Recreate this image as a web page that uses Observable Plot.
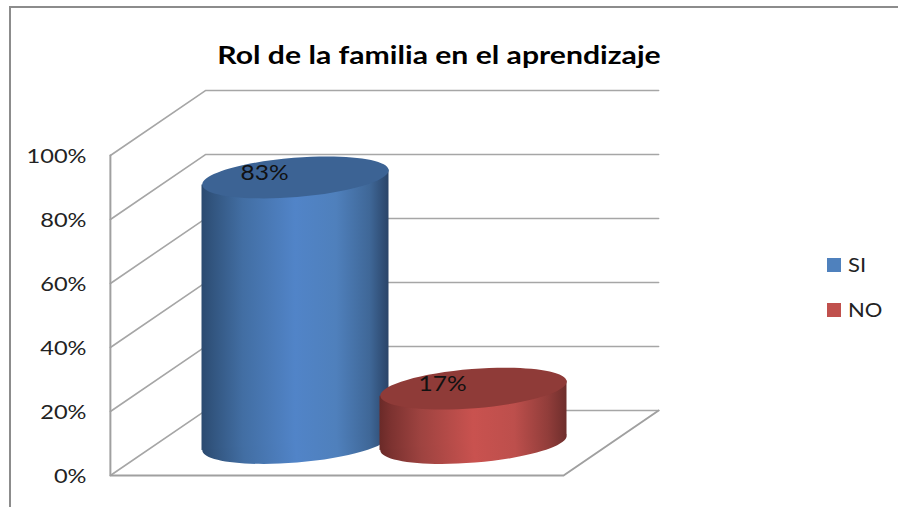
<!DOCTYPE html>
<html>
<head>
<meta charset="utf-8">
<script src="https://cdn.jsdelivr.net/npm/d3@7"></script>
<script src="https://cdn.jsdelivr.net/npm/@observablehq/plot@0.6"></script>
<style>
  html, body { margin: 0; padding: 0; background: #fff; }
  #chart { position: relative; width: 898px; height: 507px; overflow: hidden; font-family: Lato, sans-serif; }
  #frame { position: absolute; left: 9px; top: 6px; right: -5px; bottom: -5px; border-left: 2px solid #8c8c8c; border-top: 2px solid #8c8c8c; }
  #title { position: absolute; left: 139px; width: 600px; top: 38px; text-align: center; font-weight: 700; font-size: 25px; line-height: 32px; color: #000; white-space: nowrap; transform: scaleX(1.206); transform-origin: center; }
  #legend { position: absolute; left: 827px; top: 0; font-size: 20px; color: #222; }
  .item { position: absolute; left: 0; white-space: nowrap; height: 24px; line-height: 24px; }
  .swatch { position: absolute; left: 0; top: 6px; width: 14px; height: 14px; }
  .label { position: absolute; left: 21px; top: 0; transform: scaleX(1.1); transform-origin: left; }
  svg { position: absolute; left: 0; top: 0; background: transparent; }
</style>
</head>
<body>
<div id="chart">
  <div id="frame"></div>
  <div id="title">Rol de la familia en el aprendizaje</div>
  <div id="legend"></div>
</div>
<script>
// Data
const categories = ["SI", "NO"];
const values = [83, 17];
const yTicks = [0, 20, 40, 60, 80, 100];
const colors = ["#4f81bd", "#c0504d"];
const legendTops = [252, 297];

// Oblique-projection layout, in scale units
const floorLeft = -1.04, floorRight = 1.506;  // x extent of the front edge
const depthX = 0.534, depthY = 20.3;          // shift front → back wall
const baseLift = depthY / 2;                  // cylinders stand mid-depth
const capR = 93.5;                            // cylinder radius in px (symbol size)
const halfWidth = capR / 178;                 // same radius in x units
const tiltY = 2.35, tiltDeg = -4.6;           // slight tilt of the caps
const capRatio = 0.21;

const idx = categories.map((c, i) => i);

// The reference's text is horizontally stretched; widen glyphs about their anchor
const widen = k => (index, scales, values, dims, context, next) => {
  const g = next(index, scales, values, dims, context);
  g.querySelectorAll("text").forEach(t => {
    t.setAttribute("transform", (t.getAttribute("transform") || "") + ` scale(${k},1)`);
  });
  return g;
};

// Ellipse used for the cylinder caps
const ellipse = {
  draw(ctx, size) {
    const a = Math.sqrt(size / Math.PI), b = a * capRatio, k = 0.5523;
    ctx.moveTo(-a, 0);
    ctx.bezierCurveTo(-a, -k * b, -k * a, -b, 0, -b);
    ctx.bezierCurveTo(k * a, -b, a, -k * b, a, 0);
    ctx.bezierCurveTo(a, k * b, k * a, b, 0, b);
    ctx.bezierCurveTo(-k * a, b, -a, k * b, -a, 0);
    ctx.closePath();
  }
};

// Gridlines: front-left → back-left → back-right
const grid = yTicks.flatMap(t => [
  {t, x: floorLeft, y: t},
  {t, x: floorLeft + depthX, y: t + depthY},
  {t, x: floorRight + depthX, y: t + depthY}
]);
// Axis frame: left wall edge, front floor edge, right floor edge
const frontEdge = [
  {x: floorLeft, y: 100},
  {x: floorLeft, y: 0},
  {x: floorRight, y: 0},
  {x: floorRight + depthX, y: depthY}
];

const defs = () => {
  const d = d3.create("svg:defs");
  const ramps = {
    blue: [[0, "#2b4a70"], [0.06, "#32557f"], [0.22, "#426ea3"], [0.5, "#5184c8"], [0.72, "#4f80bc"], [0.9, "#3f6797"], [1, "#2a4468"]],
    red:  [[0, "#6a2a28"], [0.06, "#7c3230"], [0.22, "#9e4340"], [0.5, "#c9524f"], [0.72, "#bd4f4c"], [0.9, "#913d3a"], [1, "#6e2e2c"]]
  };
  for (const [id, stops] of Object.entries(ramps)) {
    const g = d.append("linearGradient").attr("id", id).attr("x1", 0).attr("x2", 1).attr("y1", 0).attr("y2", 0);
    for (const [o, c] of stops) g.append("stop").attr("offset", o).attr("stop-color", c);
  }
  return d.node();
};

const capFills = ["#3c6394", "#8f3b38"];
const bodyFills = ["url(#blue)", "url(#red)"];

const cylinder = i => {
  const base = baseLift;
  const body = [
    {x: i - halfWidth, lo: base - tiltY, hi: values[i] + base - tiltY},
    {x: i + halfWidth, lo: base + tiltY, hi: values[i] + base + tiltY}
  ];
  const common = {r: capR, symbol: ellipse, rotate: tiltDeg, stroke: "none"};
  return [
    Plot.dot([0], {...common, x: () => i, y: () => base, fill: bodyFills[i]}),
    Plot.area(body, {x1: "x", y1: "lo", y2: "hi", fill: bodyFills[i]}),
    Plot.dot([0], {...common, x: () => i, y: () => values[i] + base, fill: capFills[i]})
  ];
};

const plot = Plot.plot({
  width: 898,
  height: 507,
  marginLeft: 110,
  marginRight: 0,
  marginTop: 0,
  marginBottom: 0,
  style: {background: "transparent", fontFamily: "Lato, sans-serif"},
  x: {domain: [0, 1], range: [295, 473], axis: null},
  y: {domain: [0, 100], range: [475, 155]},
  marks: [
    defs,
    Plot.line(grid, {x: "x", y: "y", z: "t", stroke: "#a6a6a6", strokeWidth: 1.6}),
    Plot.line(frontEdge, {x: "x", y: "y", stroke: "#a0a0a0", strokeWidth: 2}),
    Plot.axisY({
      ticks: yTicks,
      tickFormat: d => d + "%",
      tickSize: 0,
      tickPadding: 24,
      fontSize: 20,
      dy: 1.5,
      fill: "#222",
      label: null,
      line: false,
      render: widen(1.18)
    }),
    ...idx.flatMap(cylinder),
    Plot.text(idx, {
      x: i => i,
      y: i => values[i] + baseLift,
      text: i => values[i] + "%",
      dx: -31,
      dy: -4,
      fontSize: 21,
      fill: "#111",
      render: widen(1.17)
    })
  ]
});
document.getElementById("chart").appendChild(plot);

const legend = document.getElementById("legend");
categories.forEach((c, i) => {
  const item = document.createElement("div");
  item.className = "item";
  item.style.top = legendTops[i] + "px";
  item.innerHTML = `<span class="swatch" style="background:${colors[i]}"></span><span class="label">${c}</span>`;
  legend.appendChild(item);
});
</script>
</body>
</html>
